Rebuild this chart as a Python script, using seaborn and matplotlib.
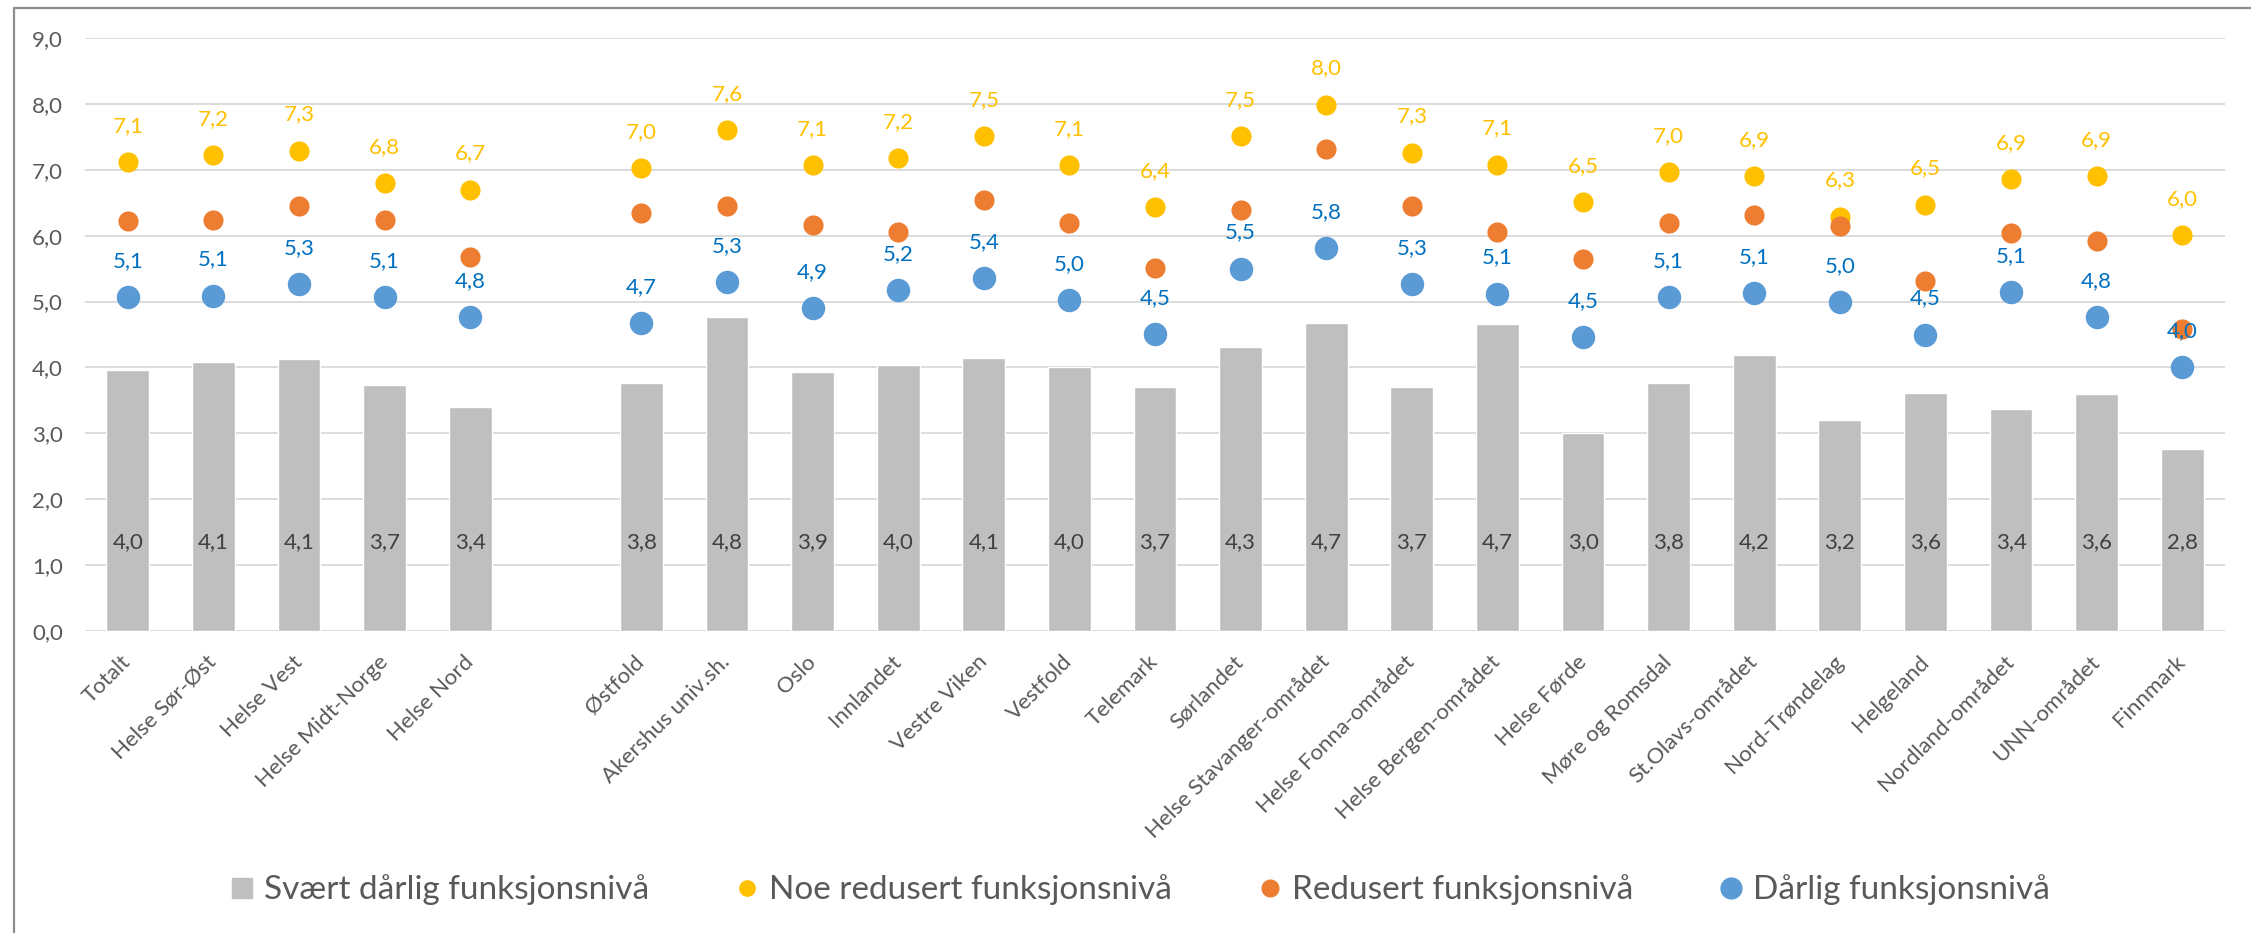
import numpy as np
import pandas as pd
import matplotlib
matplotlib.use("Agg")
import matplotlib.pyplot as plt
import seaborn as sns
from matplotlib.lines import Line2D

nan = np.nan

categories = ["Totalt", "Helse Sør-Øst", "Helse Vest", "Helse Midt-Norge", "Helse Nord", " ",
              "Østfold", "Akershus univ.sh.", "Oslo", "Innlandet", "Vestre Viken", "Vestfold",
              "Telemark", "Sørlandet", "Helse Stavanger-området", "Helse Fonna-området",
              "Helse Bergen-området", "Helse Førde", "Møre og Romsdal", "St.Olavs-området",
              "Nord-Trøndelag", "Helgeland", "Nordland-området", "UNN-området", "Finnmark"]

svaert_darlig = [3.96, 4.09, 4.13, 3.74, 3.40, nan, 3.76, 4.77, 3.93, 4.04, 4.14, 4.01, 3.71, 4.31,
                 4.68, 3.71, 4.66, 3.01, 3.76, 4.19, 3.20, 3.61, 3.37, 3.59, 2.76]
noe_redusert = [7.12, 7.22, 7.29, 6.80, 6.70, nan, 7.03, 7.60, 7.07, 7.18, 7.51, 7.07, 6.43, 7.51,
                7.99, 7.26, 7.08, 6.51, 6.96, 6.91, 6.29, 6.47, 6.86, 6.91, 6.01]
redusert = [6.22, 6.24, 6.45, 6.24, 5.67, nan, 6.35, 6.45, 6.16, 6.06, 6.54, 6.19, 5.51, 6.39,
            7.31, 6.45, 6.06, 5.65, 6.19, 6.31, 6.15, 5.31, 6.04, 5.92, 4.58]
darlig = [5.07, 5.09, 5.26, 5.07, 4.76, nan, 4.67, 5.30, 4.90, 5.17, 5.36, 5.02, 4.51, 5.50,
          5.81, 5.27, 5.12, 4.46, 5.07, 5.13, 4.99, 4.50, 5.14, 4.76, 4.01]

series_names = ["Svært dårlig funksjonsnivå", "Noe redusert funksjonsnivå",
                "Redusert funksjonsnivå", "Dårlig funksjonsnivå"]
yticks = [0, 1, 2, 3, 4, 5, 6, 7, 8, 9]

GRAY = "#BFBFBF"
YELLOW = "#FFC000"
ORANGE = "#ED7D31"
BLUE = "#5B9BD5"
TXT = "#595959"

df = pd.DataFrame({"kategori": categories, "svaert": svaert_darlig, "noe": noe_redusert,
                   "red": redusert, "darlig": darlig})

sns.set_theme(style="white")
plt.rcParams["font.family"] = ["Lato", "DejaVu Sans"]

W, H = 2251, 933
fig = plt.figure(figsize=(W / 100, H / 100), dpi=100)
ax = fig.add_axes([85 / W, 1 - 631 / H, 2140 / W, 593 / H])

sns.barplot(data=df, x="kategori", y="svaert", order=categories, color=GRAY, saturation=1,
            width=0.5, errorbar=None, ax=ax, zorder=2)
sns.stripplot(data=df, x="kategori", y="noe", order=categories, color=YELLOW, size=14.5,
              jitter=False, linewidth=0, ax=ax, zorder=3)
sns.stripplot(data=df, x="kategori", y="red", order=categories, color=ORANGE, size=14.5,
              jitter=False, linewidth=0, ax=ax, zorder=4)
sns.stripplot(data=df, x="kategori", y="darlig", order=categories, color=BLUE, size=16.9,
              jitter=False, linewidth=0, ax=ax, zorder=5)

def fmt(v):
    return f"{v:.1f}".replace(".", ",")

for i, (b, y, d) in enumerate(zip(svaert_darlig, noe_redusert, darlig)):
    if np.isnan(b):
        continue
    ax.text(i, 1.35, fmt(b), ha="center", va="center", fontsize=16, color="#404040", zorder=6)
    ax.annotate(fmt(y), (i, y), xytext=(0, 26), textcoords="offset points", ha="center",
                va="center", fontsize=16, color=YELLOW, zorder=6)
    ax.annotate(fmt(d), (i, d), xytext=(0, 26), textcoords="offset points", ha="center",
                va="center", fontsize=16, color="#0070C0", zorder=6)

ax.set_xlim(-0.5, len(categories) - 0.5)
ax.set_ylim(0, 9)
ax.set_yticks(yticks)
ax.set_yticklabels([fmt(t) for t in yticks], fontsize=16, color=TXT)
ax.set_xticks(range(len(categories)))
ax.set_xticklabels(categories, rotation=45, ha="right", va="center", rotation_mode="anchor",
                   fontsize=16, color=TXT)
ax.tick_params(axis="y", length=0, pad=16)
ax.tick_params(axis="x", length=0, pad=20)
ax.set_xlabel("")
ax.set_ylabel("")
ax.yaxis.grid(True, color="#D9D9D9", lw=1.3)
ax.xaxis.grid(False)
ax.set_axisbelow(True)
for s in ax.spines.values():
    s.set_visible(False)

handles = [
    Line2D([], [], marker="s", ls="", color=GRAY, markersize=15),
    Line2D([], [], marker="o", ls="", color=YELLOW, markersize=11),
    Line2D([], [], marker="o", ls="", color=ORANGE, markersize=12),
    Line2D([], [], marker="o", ls="", color=BLUE, markersize=15),
]
fig.legend(handles, series_names, loc="center", bbox_to_anchor=(1140 / W, 1 - 890 / H), ncol=4,
           frameon=False, fontsize=24, handlelength=0.7, handletextpad=0.3, columnspacing=2.6,
           labelcolor=TXT)

fig.add_artist(Line2D([14 / W, 1], [1 - 8 / H, 1 - 8 / H], transform=fig.transFigure,
                      color="#8C8C8C", lw=1.6))
fig.add_artist(Line2D([14 / W, 14 / W], [0, 1 - 8 / H], transform=fig.transFigure,
                      color="#8C8C8C", lw=1.6))

fig.savefig("out.png", dpi=100)
